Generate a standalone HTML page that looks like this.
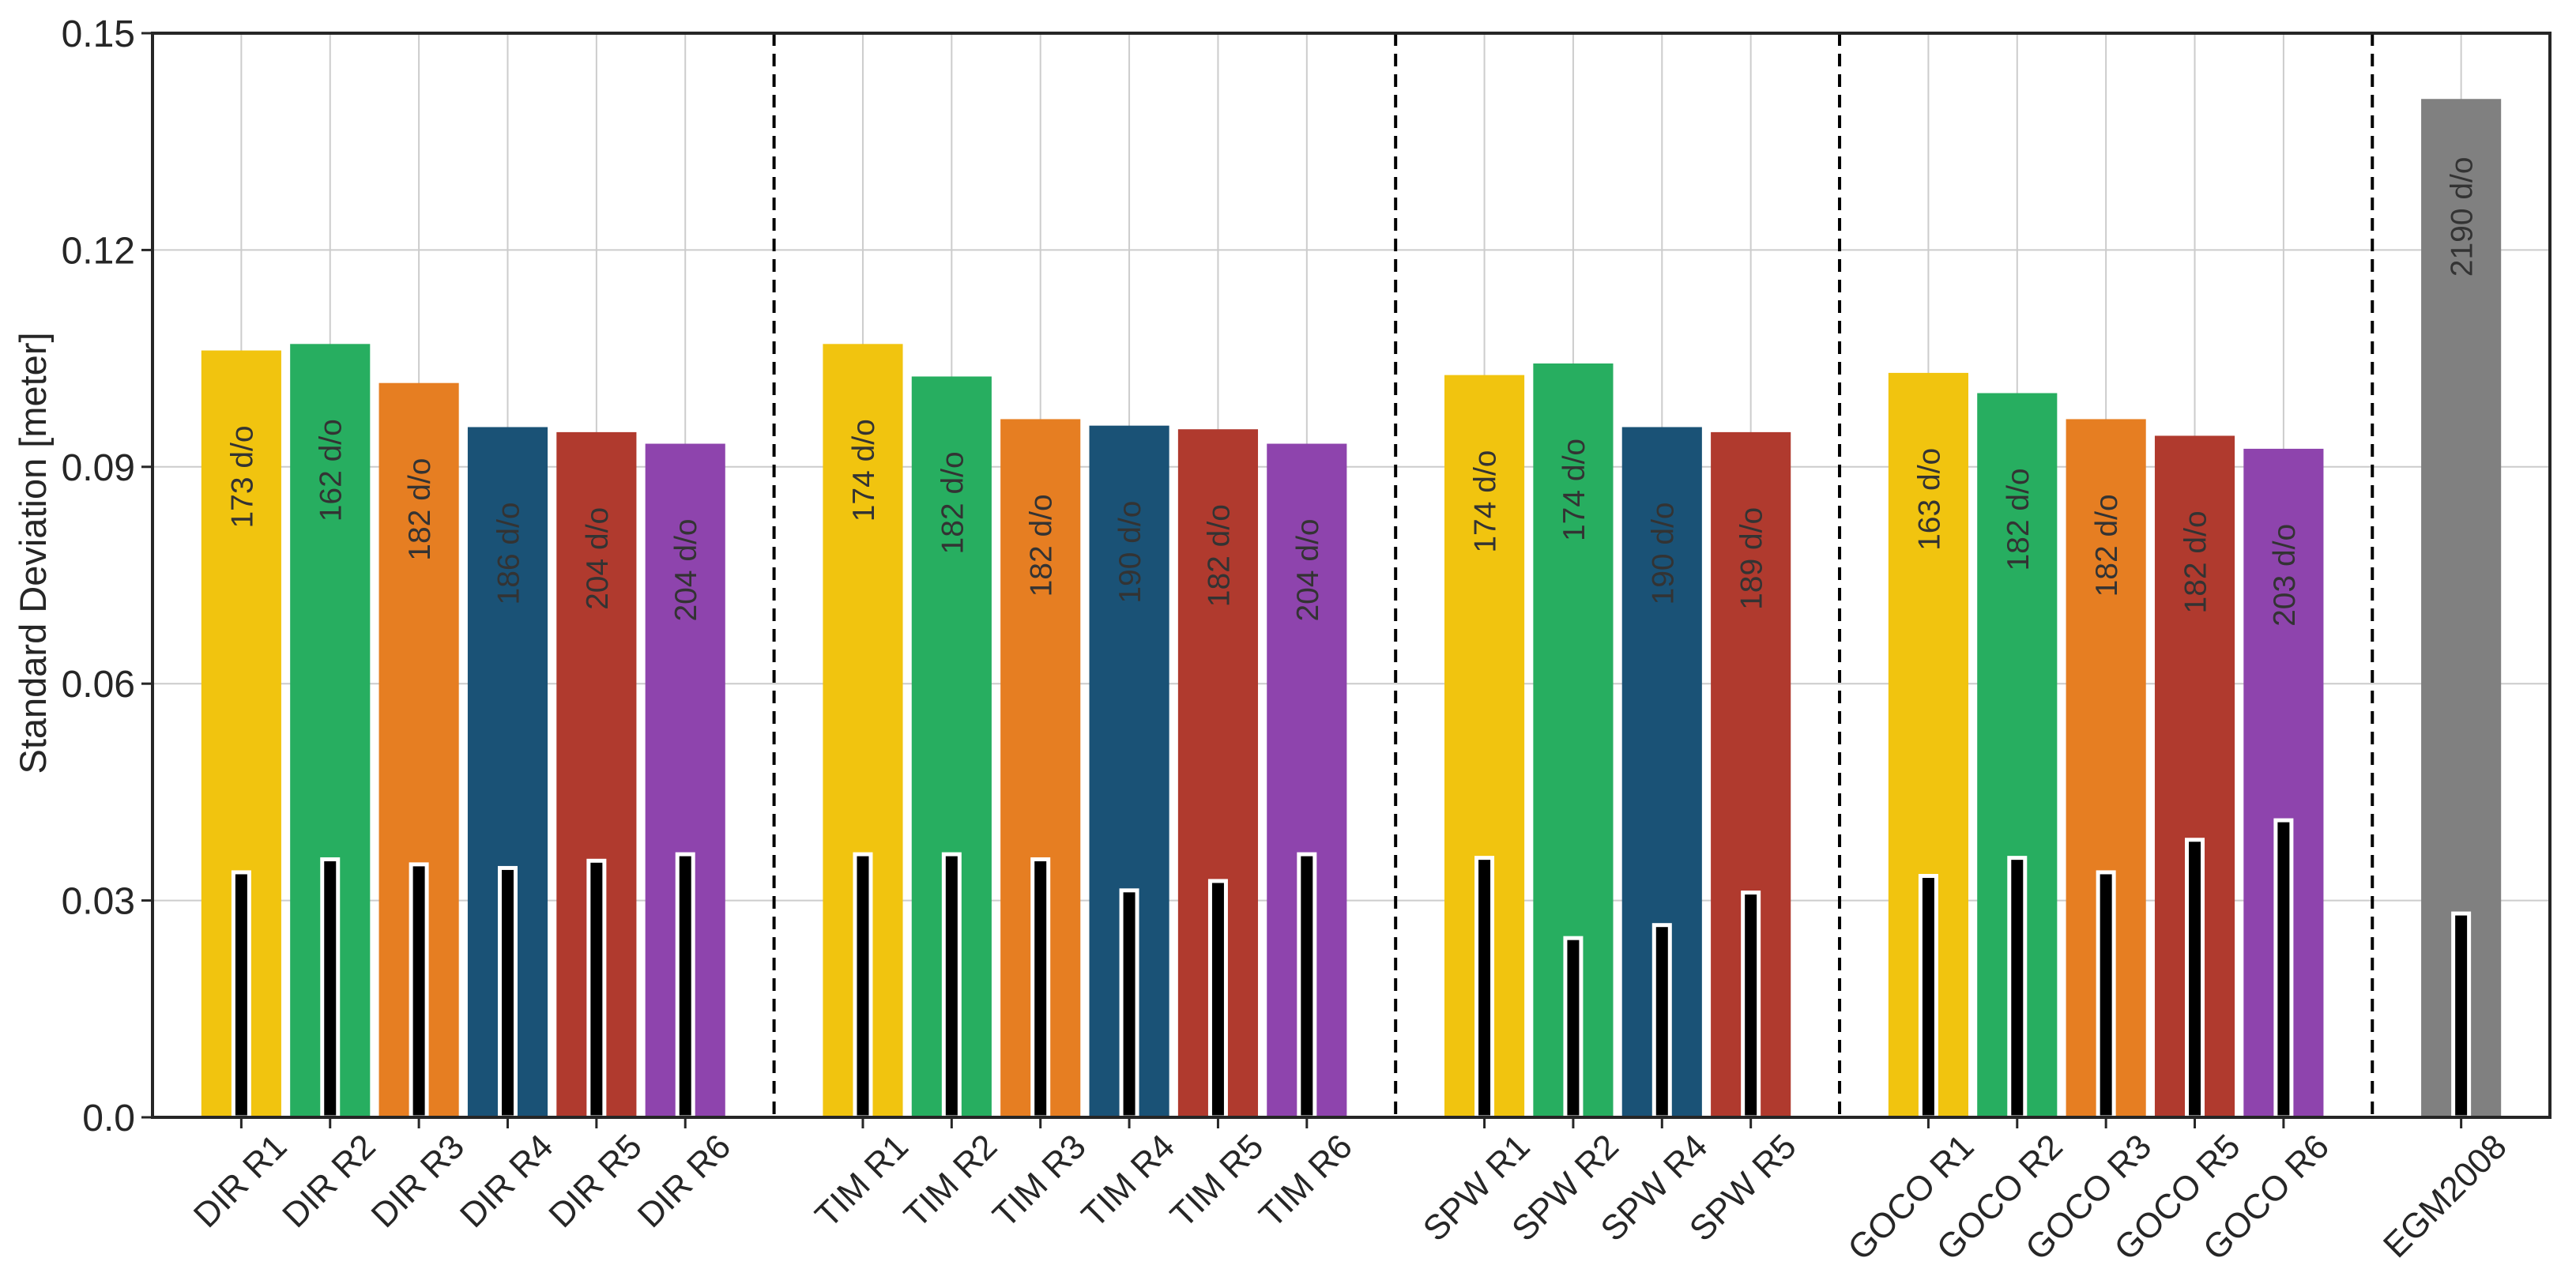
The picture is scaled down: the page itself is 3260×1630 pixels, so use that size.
<!DOCTYPE html>
<html><head><meta charset="utf-8"><style>
html,body{margin:0;padding:0;background:#fff;}
svg{display:block;font-family:"Liberation Sans",Arial,sans-serif;}
</style></head><body>
<svg id="chart" width="3260" height="1630" viewBox="0 0 3260 1630" xmlns="http://www.w3.org/2000/svg">
<g id="grid"></g>
<g id="bars"></g>
<g id="axes"></g>
<text transform="translate(58,700) rotate(-90)" text-anchor="middle" font-size="47" fill="#262626">Standard Deviation [meter]</text>
</svg>
<script>
const categories = ["DIR R1","DIR R2","DIR R3","DIR R4","DIR R5","DIR R6",
  "TIM R1","TIM R2","TIM R3","TIM R4","TIM R5","TIM R6",
  "SPW R1","SPW R2","SPW R4","SPW R5",
  "GOCO R1","GOCO R2","GOCO R3","GOCO R5","GOCO R6","EGM2008"];
const positions = [0,1,2,3,4,5, 7,8,9,10,11,12, 14,15,16,17, 19,20,21,22,23, 25];
const stdValues = [0.1061,0.1070,0.1016,0.0955,0.0948,0.0932,
  0.1070,0.1025,0.0966,0.0957,0.0952,0.0932,
  0.1027,0.1043,0.0955,0.0948,
  0.1030,0.1002,0.0966,0.0943,0.0925,0.1409];
const innerValues = [0.0339,0.0357,0.0350,0.0345,0.0355,0.0364,
  0.0364,0.0364,0.0357,0.0314,0.0327,0.0364,
  0.0359,0.0248,0.0266,0.0311,
  0.0334,0.0359,0.0339,0.0384,0.0411,0.0282];
const degreeLabels = ["173 d/o","162 d/o","182 d/o","186 d/o","204 d/o","204 d/o",
  "174 d/o","182 d/o","182 d/o","190 d/o","182 d/o","204 d/o",
  "174 d/o","174 d/o","190 d/o","189 d/o",
  "163 d/o","182 d/o","182 d/o","182 d/o","203 d/o","2190 d/o"];
const barColors = ["#f1c40f","#27ae60","#e67e22","#1a5276","#b03a2e","#8e44ad",
  "#f1c40f","#27ae60","#e67e22","#1a5276","#b03a2e","#8e44ad",
  "#f1c40f","#27ae60","#1a5276","#b03a2e",
  "#f1c40f","#27ae60","#e67e22","#b03a2e","#8e44ad","#808080"];
const separators = [6,13,18,24];
const yTicks = [0,0.03,0.06,0.09,0.12,0.15];
const yTickLabels = ["0.0","0.03","0.06","0.09","0.12","0.15"];

const L=193,R=3227,T=42,B=1414,XMIN=-1,XMAX=26,YMAX=0.15;
const NS="http://www.w3.org/2000/svg";
function xs(i){return L+(i-XMIN)/(XMAX-XMIN)*(R-L);}
function ys(v){return B-v/YMAX*(B-T);}
const unit=(R-L)/(XMAX-XMIN);
function mk(tag,attrs,parent){const e=document.createElementNS(NS,tag);for(const k in attrs)e.setAttribute(k,attrs[k]);parent.appendChild(e);return e;}
const grid=document.getElementById('grid'),bars=document.getElementById('bars'),axes=document.getElementById('axes');

yTicks.forEach((v,k)=>{
  const g=mk('line',{x1:L,x2:R,y1:ys(v),y2:ys(v),stroke:'#cccccc','stroke-width':2},grid);
  
  
  const t=mk('line',{x1:L-14,x2:L,y1:ys(v),y2:ys(v),stroke:'#262626','stroke-width':3},axes);
  
  
  const lb=mk('text',{x:L-22,y:ys(v)+17,'text-anchor':'end','font-size':48,fill:'#262626'},axes);
  lb.textContent=yTickLabels[k];
  
  
});
positions.forEach(p=>{
  const g=mk('line',{x1:xs(p),x2:xs(p),y1:T,y2:B,stroke:'#cccccc','stroke-width':2},grid);
  
  
});
const bw=unit*0.9, iw=20;
categories.forEach((c,i)=>{
  const x=xs(positions[i]);
  const b=mk('rect',{x:x-bw/2,y:ys(stdValues[i]),width:bw,height:B-ys(stdValues[i]),fill:barColors[i]},bars);
  
  
  const ib=mk('rect',{x:x-iw/2,y:ys(innerValues[i]),width:iw,height:B-ys(innerValues[i]),fill:'#000',stroke:'#fff','stroke-width':5},bars);
  
  
  const ty=ys(stdValues[i])+225;
  const t=mk('text',{transform:`translate(${x+14},${ty}) rotate(-90)`,'text-anchor':'start','font-size':39,fill:'#333333'},bars);
  t.textContent=degreeLabels[i];
  
  
  const tk=mk('line',{x1:x,x2:x,y1:B,y2:B+14,stroke:'#262626','stroke-width':3},axes);
  
  
  const xl=mk('text',{transform:`translate(${x+60},${B+40}) rotate(-45)`,'text-anchor':'end','font-size':44,fill:'#262626'},axes);
  xl.textContent=c;
  
  
});
separators.forEach(s=>{
  const d=mk('line',{x1:xs(s),x2:xs(s),y1:T,y2:B,stroke:'#000','stroke-width':4,'stroke-dasharray':'16 10'},bars);
  
  
});
const fr=mk('rect',{x:L,y:T,width:R-L,height:B-T,fill:'none',stroke:'#262626','stroke-width':4},axes);


</script>
</body></html>
